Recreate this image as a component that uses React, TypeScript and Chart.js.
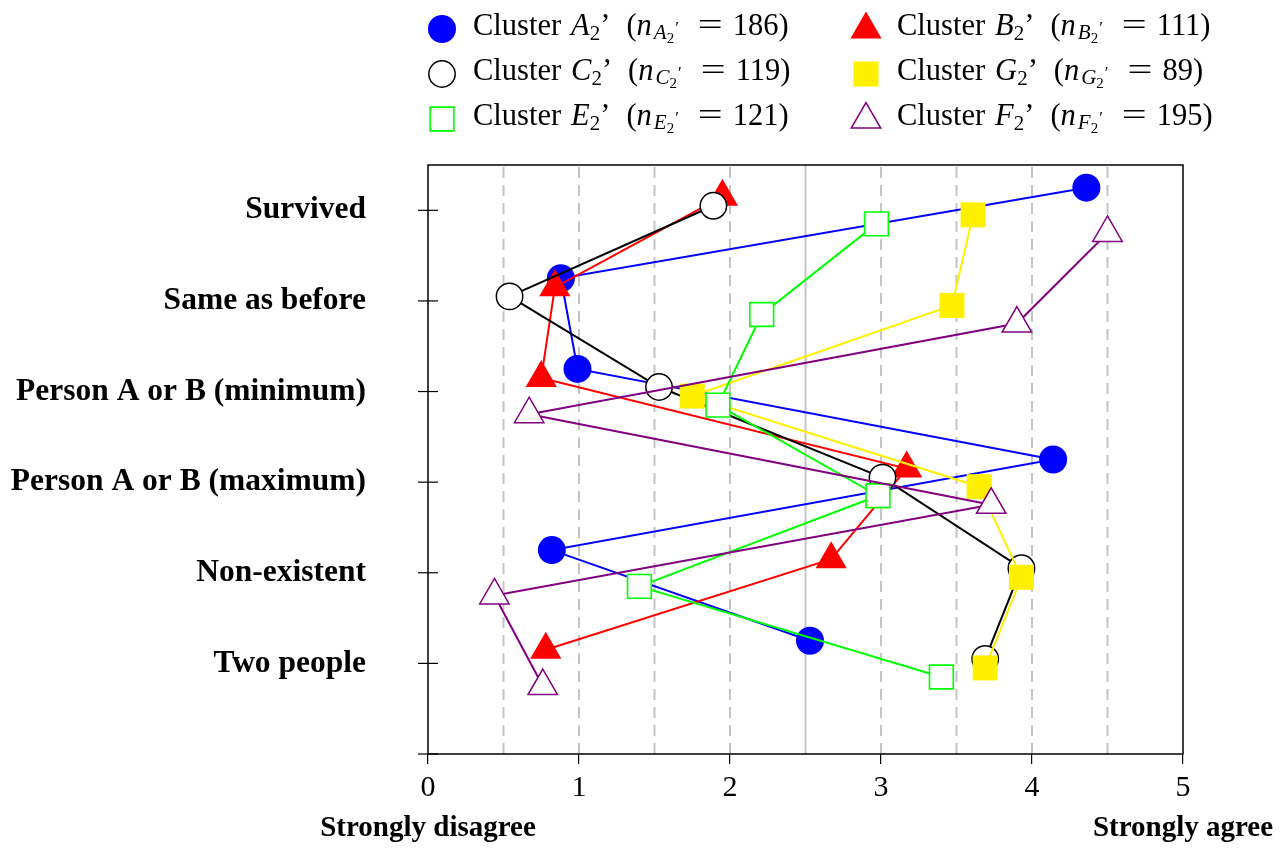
import React, { useEffect, useRef } from 'react';
import { Chart, registerables } from 'chart.js';

Chart.register(...registerables);

// ---------- data ----------
const categories = [
  'Survived',
  'Same as before',
  'Person A or B (minimum)',
  'Person A or B (maximum)',
  'Non-existent',
  'Two people',
];
const xTickLabels = ['0', '1', '2', '3', '4', '5'];

const clusterA = [4.36, 0.88, 0.99, 4.14, 0.82, 2.53];
const clusterB = [1.95, 0.84, 0.75, 3.17, 2.67, 0.78];
const clusterC = [1.89, 0.54, 1.53, 3.01, 3.93, 3.69];
const clusterG = [3.61, 3.47, 1.75, 3.65, 3.93, 3.69];
const clusterE = [2.97, 2.21, 1.92, 2.98, 1.40, 3.40];
const clusterF = [4.50, 3.90, 0.67, 3.73, 0.44, 0.76];

const clusterLetters = ['A', 'B', 'C', 'G', 'E', 'F'];
const clusterSizes = [186, 111, 119, 89, 121, 195];
const clusterOffsets = [0.25, 0.15, 0.05, -0.05, -0.15, -0.25];

const axisEndLabels = ['Strongly disagree', 'Strongly agree'];

// ---------- styles ----------
const SERIF = '"Liberation Serif", "Times New Roman", serif';

type Style = {
  color: string;
  fill: string;
  shape: 'circle' | 'triangle' | 'rect';
  radius: number;
  bw: number;
};
const styles: Style[] = [
  { color: '#0000ff', fill: '#0000ff', shape: 'circle', radius: 14, bw: 0 },
  { color: '#ff0000', fill: '#ff0000', shape: 'triangle', radius: 18, bw: 0 },
  { color: '#000000', fill: '#ffffff', shape: 'circle', radius: 13.2, bw: 1.5 },
  { color: '#fff000', fill: '#fff000', shape: 'rect', radius: 17.7, bw: 0 },
  { color: '#00ff00', fill: '#ffffff', shape: 'rect', radius: 16.8, bw: 1.6 },
  { color: '#800080', fill: '#ffffff', shape: 'triangle', radius: 17, bw: 1.5 },
];

const seriesValues = [clusterA, clusterB, clusterC, clusterG, clusterE, clusterF];

function drawMarker(ctx: CanvasRenderingContext2D, s: Style, x: number, y: number) {
  ctx.save();
  ctx.beginPath();
  const r = s.radius;
  if (s.shape === 'circle') {
    ctx.arc(x, y, r, 0, Math.PI * 2);
  } else if (s.shape === 'rect') {
    const h = r * Math.SQRT1_2;
    ctx.rect(x - h, y - h, 2 * h, 2 * h);
  } else {
    ctx.moveTo(x, y - r);
    ctx.lineTo(x + r * Math.sin((2 * Math.PI) / 3), y + r * 0.5);
    ctx.lineTo(x - r * Math.sin((2 * Math.PI) / 3), y + r * 0.5);
    ctx.closePath();
  }
  ctx.fillStyle = s.fill;
  ctx.fill();
  if (s.bw > 0) {
    ctx.lineWidth = s.bw;
    ctx.strokeStyle = s.color;
    ctx.stroke();
  }
  ctx.restore();
}

type Part = { t: string; f: number; it?: boolean; dy?: number; gap?: number; sx?: number };

function drawLegendText(ctx: CanvasRenderingContext2D, x: number, y: number, letter: string, n: number) {
  const parts: Part[] = [
    { t: 'Cluster', f: 30.5 },
    { t: letter, f: 30.5, it: true, gap: 10 },
    { t: '2', f: 21, dy: 5 },
    { t: '\u2019', f: 30.5 },
    { t: '(', f: 30.5, gap: 16 },
    { t: 'n', f: 30.5, it: true },
    { t: letter, f: 21, it: true, dy: 4, gap: 2 },
    { t: '2', f: 15, dy: 8 },
    { t: '\u2032', f: 17, dy: -2, gap: 1 },
    { t: '=', f: 30.5, gap: 19, sx: 1.45 },
    { t: String(n) + ')', f: 30.5, gap: 10 },
  ];
  let cx = x;
  ctx.save();
  ctx.fillStyle = '#000';
  ctx.textAlign = 'left';
  ctx.textBaseline = 'alphabetic';
  for (const p of parts) {
    cx += p.gap || 0;
    ctx.font = `${p.it ? 'italic ' : ''}${p.f}px ${SERIF}`;
    const w = ctx.measureText(p.t).width;
    if (p.sx) {
      ctx.save();
      ctx.translate(cx, y + (p.dy || 0));
      ctx.scale(p.sx, 1);
      ctx.fillText(p.t, 0, 0);
      ctx.restore();
      cx += w * p.sx;
    } else {
      ctx.fillText(p.t, cx, y + (p.dy || 0));
      cx += w;
    }
  }
  ctx.restore();
}

const decorPlugin = {
  id: 'decor',
  beforeDatasetsDraw(chart: any) {
    const { ctx, chartArea } = chart;
    const xs = chart.scales.x;
    ctx.save();
    for (let v = 0.5; v < 5; v += 0.5) {
      const px = xs.getPixelForValue(v);
      ctx.beginPath();
      ctx.lineWidth = 2;
      ctx.strokeStyle = '#c4c4c4';
      if (Math.abs(v - 2.5) < 1e-6) ctx.setLineDash([]);
      else ctx.setLineDash([11, 7]);
      ctx.moveTo(px, chartArea.bottom);
      ctx.lineTo(px, chartArea.top);
      ctx.stroke();
    }
    ctx.setLineDash([]);
    // frame
    ctx.lineWidth = 1.5;
    ctx.strokeStyle = '#000';
    ctx.strokeRect(chartArea.left, chartArea.top, chartArea.right - chartArea.left, chartArea.bottom - chartArea.top);
    // y tick marks
    const ys = chart.scales.y;
    ctx.lineWidth = 1.2;
    for (let v = 0; v <= categories.length; v++) {
      const py = ys.getPixelForValue(v);
      ctx.beginPath();
      ctx.moveTo(chartArea.left - 10, py);
      ctx.lineTo(chartArea.left + 10, py);
      ctx.stroke();
    }
    ctx.restore();
  },
  afterDraw(chart: any) {
    const { ctx } = chart;
    const xs = chart.scales.x;
    ctx.save();
    ctx.fillStyle = '#000';
    ctx.font = `bold 29px ${SERIF}`;
    ctx.textAlign = 'center';
    ctx.textBaseline = 'alphabetic';
    ctx.fillText(axisEndLabels[0], xs.getPixelForValue(0), 836);
    ctx.fillText(axisEndLabels[1], xs.getPixelForValue(5), 836);
    // legend
    const colMarkerX = [442, 866];
    const colTextX = [473, 897];
    const rowBase = [35, 80, 125];
    for (let i = 0; i < clusterLetters.length; i++) {
      const r = Math.floor(i / 2);
      const c = i % 2;
      const s = styles[i];
      const my = rowBase[r] - 6;
      drawMarker(ctx, s, colMarkerX[c], s.shape === 'triangle' ? my + 0.5 : my);
      drawLegendText(ctx, colTextX[c], rowBase[r], clusterLetters[i], clusterSizes[i]);
    }
    ctx.restore();
  },
};

export default function App() {
  const ref = useRef<HTMLCanvasElement>(null);
  useEffect(() => {
    const n = categories.length;
    const datasets = seriesValues.map((vals, k) => {
      const s = styles[k];
      return {
        label: `Cluster ${clusterLetters[k]}`,
        data: vals.map((v, i) => ({ x: v, y: n - i + clusterOffsets[k] })),
        showLine: true,
        borderColor: s.color,
        backgroundColor: s.fill,
        borderWidth: 2,
        pointStyle: s.shape,
        pointRadius: s.radius,
        pointHoverRadius: s.radius,
        pointBackgroundColor: s.fill,
        pointBorderColor: s.color,
        pointBorderWidth: s.bw,
        tension: 0,
        clip: false as any,
        order: seriesValues.length - k,
      };
    });
    const chart = new Chart(ref.current as HTMLCanvasElement, {
      type: 'scatter',
      data: { datasets },
      options: {
        animation: false,
        responsive: false,
        devicePixelRatio: 1,
        events: [],
        layout: { padding: { top: 165, right: 98, left: 0, bottom: 0 } },
        plugins: { legend: { display: false }, tooltip: { enabled: false }, title: { display: false } },
        scales: {
          x: {
            type: 'linear',
            min: 0,
            max: 5,
            afterFit: (s: any) => {
              s.height = 94;
            },
            afterBuildTicks: (s: any) => {
              s.ticks = xTickLabels.map((_, i) => ({ value: i }));
            },
            ticks: {
              stepSize: 1,
              color: '#000',
              padding: 6,
              font: { family: SERIF, size: 30 },
              callback: (v: any) => xTickLabels[Math.round(Number(v))] ?? '',
            },
            grid: { drawOnChartArea: false, drawTicks: true, tickLength: 10, color: '#000', lineWidth: 1.2 },
            border: { display: false },
          },
          y: {
            type: 'linear',
            min: 0,
            max: n + 0.5,
            afterFit: (s: any) => {
              s.width = 428;
            },
            afterBuildTicks: (s: any) => {
              const t = [];
              for (let v = 0; v <= n; v++) t.push({ value: v });
              s.ticks = t;
            },
            ticks: {
              color: '#000',
              padding: 62,
              font: { family: SERIF, size: 31.5, weight: 'bold' },
              callback: (v: any) => {
                const k = Math.round(Number(v));
                return k === 0 ? '' : categories[n - k];
              },
            },
            grid: { display: false, drawTicks: false },
            border: { display: false },
          },
        },
      },
      plugins: [decorPlugin],
    } as any);
    return () => chart.destroy();
  }, []);
  return (
    <div style={{ position: 'absolute', left: 0, top: 0, width: 1281, height: 848, background: '#fff' }}>
      <canvas ref={ref} width={1281} height={848} style={{ display: 'block', width: 1281, height: 848 }} />
    </div>
  );
}
